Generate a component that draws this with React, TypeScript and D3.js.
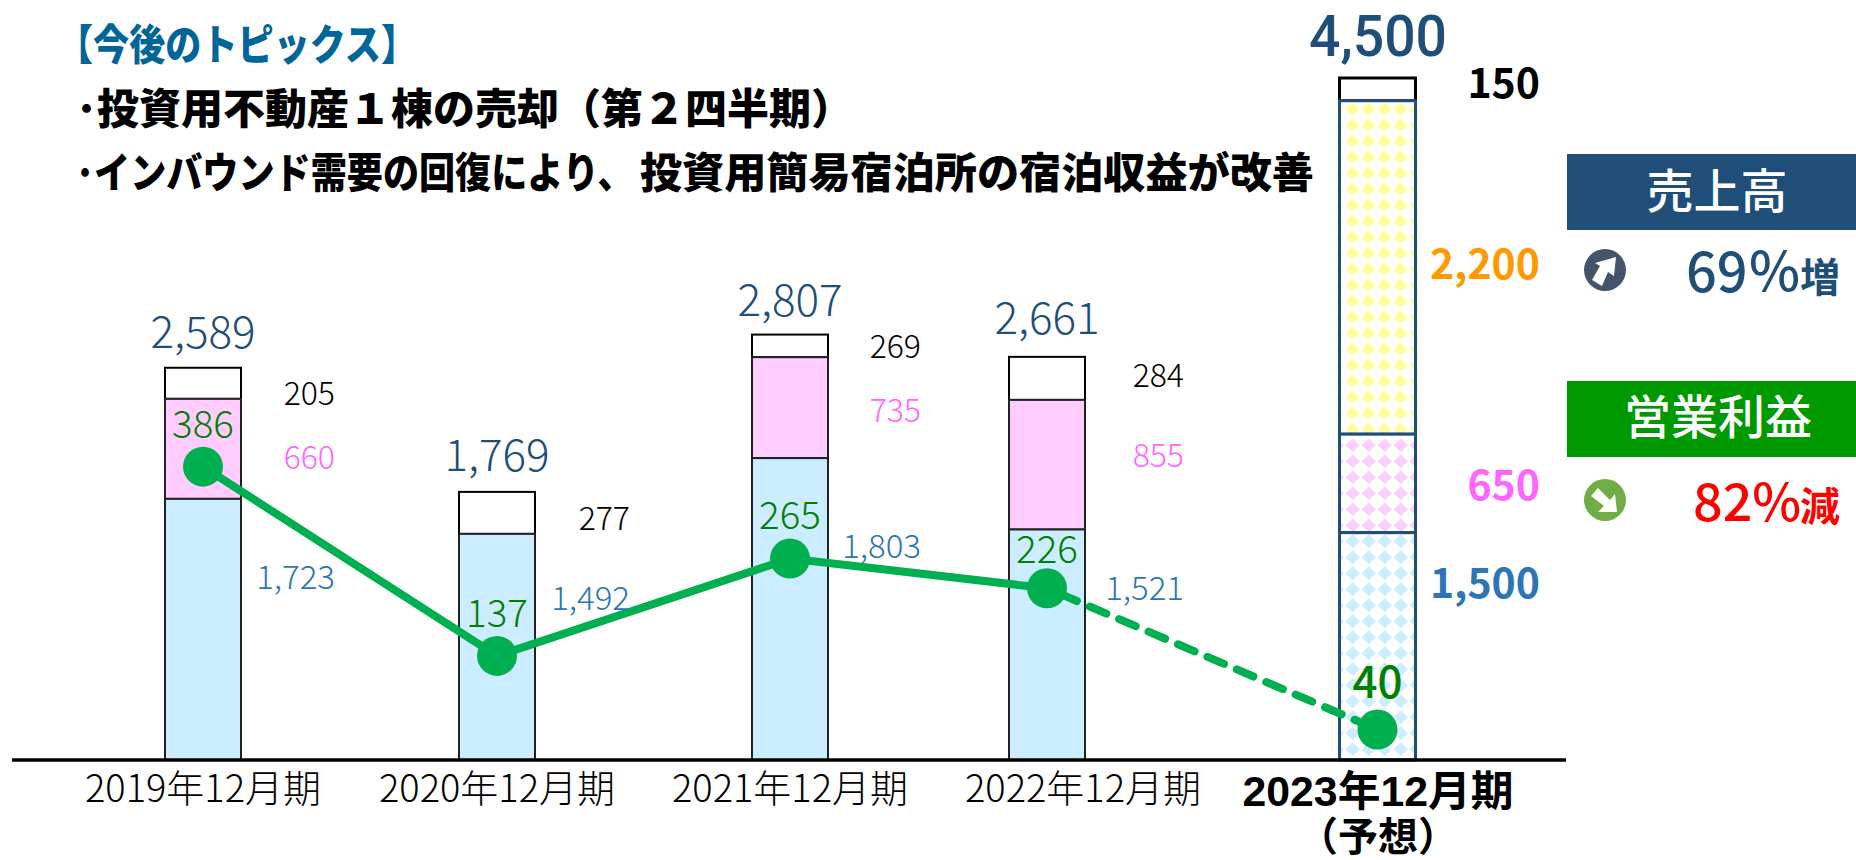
import React from "react";
import * as d3 from "d3";

const categories = ["2019年12月期", "2020年12月期", "2021年12月期", "2022年12月期", "2023年12月期"];
const totals = [2589, 1769, 2807, 2661, 4500];
// values printed beside the bars
const labelA = [1723, 1492, 1803, 1521, 1500];
const labelB = [660, 0, 735, 855, 650];
const labelC = [0, 0, 0, 0, 2200];
const labelD = [205, 277, 269, 284, 150];
// segment heights as actually drawn (2021's differ from its printed labels)
const barA = [1723, 1492, 1992, 1521, 1500];
const barB = [660, 0, 666, 855, 650];
const barC = [0, 0, 0, 0, 2200];
const barD = [205, 277, 149, 284, 150];
const profit = [386, 137, 265, 226, 40];

const FONT = "'Noto Sans CJK JP','Noto Sans',sans-serif";
const FONT_TIGHT = "'Liberation Sans','Noto Sans CJK JP',sans-serif";
const W = 1856, H = 860, BASE = 760;
const x = d3.scaleOrdinal<string, number>().domain(categories).range([203, 497, 790, 1047, 1377.5]);
const xLabel = d3.scaleOrdinal<string, number>().domain(categories).range([203, 497, 790, 1083, 1378]);
const y = d3.scaleLinear().domain([0, 4500]).range([BASE, 78]);
const yLine = d3.scaleLinear().domain([0, 400]).range([BASE, 456]);
const BAR = 76;
const fmt = d3.format(",");

const lineGen = d3.line<number>().x((_, i) => x(categories[i])).y((d) => yLine(d));
const solid = lineGen(profit.slice(0, 4)) as string;
const dashed = d3.line<number>().x((_, i) => x(categories[i + 3])).y((d) => yLine(d))(profit.slice(3)) as string;

// label layout: baselines & right edges
const totalY = [348, 471, 316, 334];
const sideRight = [335, 630, 921, 1184];
const whiteY = [405, 530, 358, 387];
const pinkY = [469, 0, 422, 467];
const blueY = [589, 610, 558, 600];
const profitY = [438, 627, 529, 563, 698];

function T(p: any) {
  const { children, ...r } = p;
  return <text fontFamily={FONT} {...r}>{children}</text>;
}
function Pat({ id, color }: { id: string; color: string }) {
  return (
    <pattern id={id} width={16} height={16} patternUnits="userSpaceOnUse" x={1344.7} y={101.3}>
      <rect width={16} height={16} fill="#fff" />
      <path d="M8 1L15 8L8 15L1 8Z" fill={color} />
    </pattern>
  );
}

export default function App() {
  return (
    <svg width={W} height={H} style={{ position: "absolute", left: 0, top: 0, background: "#fff" }}>
      <defs>
        <Pat id="pBlue" color="#CCECFF" />
        <Pat id="pPink" color="#FFCCFF" />
        <Pat id="pYel" color="#FFFF99" />
      </defs>

      <T x={57} y={60} fontSize={42} fontWeight={900} fill="#006699" textLength={360} lengthAdjust="spacingAndGlyphs">【今後のトピックス】</T>
      <T x={76} y={124} fontSize={42} fontWeight={900} fill="#000" textLength={777} lengthAdjust="spacingAndGlyphs">･投資用不動産１棟の売却（第２四半期）</T>
      <T transform="translate(76,188) scale(0.86,1)" fontSize={42} fontWeight={900} fill="#000">･インバウンド需要の回復により、</T>
      <T x={640} y={188} fontSize={42} fontWeight={900} fill="#000" textLength={674} lengthAdjust="spacingAndGlyphs">投資用簡易宿泊所の宿泊収益が改善</T>

      {categories.map((c, i) => {
        const cx = x(c), l = cx - BAR / 2;
        const forecast = i === 4;
        const a = barA[i], b = barB[i], cc = barC[i], d = barD[i];
        const stroke = forecast ? "#1F4E79" : "#222";
        const sw = forecast ? 3 : 2;
        return (
          <g key={c}>
            <rect x={l} width={BAR} y={y(a + b + cc + d)} height={y(a + b + cc) - y(a + b + cc + d)} fill="#fff" stroke="#000" strokeWidth={sw} />
            {cc > 0 && <rect x={l} width={BAR} y={y(a + b + cc)} height={y(a + b) - y(a + b + cc)} fill="url(#pYel)" stroke={stroke} strokeWidth={sw} />}
            {b > 0 && <rect x={l} width={BAR} y={y(a + b)} height={y(a) - y(a + b)} fill={forecast ? "url(#pPink)" : "#FFCCFF"} stroke={stroke} strokeWidth={sw} />}
            <rect x={l} width={BAR} y={y(a)} height={BASE - y(a)} fill={forecast ? "url(#pBlue)" : "#CCECFF"} stroke={stroke} strokeWidth={sw} />
          </g>
        );
      })}

      <line x1={12} x2={1566} y1={BASE} y2={BASE} stroke="#000" strokeWidth={3.5} />
      <path d={solid} fill="none" stroke="#00B050" strokeWidth={8} />
      <path d={dashed} fill="none" stroke="#00B050" strokeWidth={8} strokeDasharray="18 14" strokeDashoffset={-14.5} strokeLinecap="round" />
      {profit.map((v, i) => (
        <circle key={i} cx={x(categories[i])} cy={yLine(v)} r={20} fill="#00B050" />
      ))}

      {categories.slice(0, 4).map((c, i) => (
        <g key={c}>
          <T x={x(c)} y={totalY[i]} fontSize={44} fontWeight={300} textAnchor="middle" fill="#1F4E79">{fmt(totals[i])}</T>
          <T x={sideRight[i]} y={whiteY[i]} fontSize={32} fontWeight={300} textAnchor="end" fill="#000">{labelD[i]}</T>
          {labelB[i] > 0 && <T x={sideRight[i]} y={pinkY[i]} fontSize={32} fontWeight={300} textAnchor="end" fill="#FF66FF">{labelB[i]}</T>}
          <T x={sideRight[i]} y={blueY[i]} fontSize={33} fontWeight={300} textAnchor="end" fill="#2E75B6">{fmt(labelA[i])}</T>
          <T x={xLabel(c)} y={802} fontSize={38} fontWeight={300} textAnchor="middle" fill="#000">{c}</T>
        </g>
      ))}
      {profit.map((v, i) => (
        <T key={i} x={x(categories[i])} y={profitY[i]} fontSize={i === 4 ? 44 : 38.5} fontWeight={i === 4 ? 500 : 300} textAnchor="middle" fill="#008000">{v}</T>
      ))}

      <text x={1378} y={56} fontFamily="Roboto,sans-serif" fontSize={58} fontWeight={500} textAnchor="middle" fill="#1F4E79" textLength={138} lengthAdjust="spacingAndGlyphs">{fmt(totals[4])}</text>
      <T x={1540} y={98} fontSize={41} fontWeight={700} textAnchor="end" fill="#000">{labelD[4]}</T>
      <T x={1540} y={279} fontSize={41} fontWeight={700} textAnchor="end" fill="#FF9900">{fmt(labelC[4])}</T>
      <T x={1540} y={500} fontSize={41} fontWeight={700} textAnchor="end" fill="#FF66FF">{labelB[4]}</T>
      <T x={1540} y={598} fontSize={41} fontWeight={700} textAnchor="end" fill="#2E75B6">{fmt(labelA[4])}</T>
      <text x={xLabel(categories[4])} y={806} fontFamily={FONT_TIGHT} fontSize={42} fontWeight={700} textAnchor="middle" fill="#000" textLength={271} lengthAdjust="spacingAndGlyphs">{categories[4]}</text>
      <text x={xLabel(categories[4])} y={851} fontFamily={FONT_TIGHT} fontSize={40} fontWeight={700} textAnchor="middle" fill="#000">（予想）</text>

      <rect x={1567} y={154} width={289} height={76} fill="#1F4E79" />
      <T x={1717} y={208} fontSize={47} fontWeight={500} textAnchor="middle" fill="#fff">売上高</T>
      <circle cx={1605} cy={270} r={21} fill="#44546A" />
      <path d="M1616 257L1614 276L1608 272L1602 286L1592 280L1600 266L1595 263Z" fill="#fff" />
      <T x={1686} y={292} fontSize={54} fontWeight={500} fill="#1F4E79">69％</T>
      <T x={1800} y={292} fontSize={40} fontWeight={700} fill="#1F4E79">増</T>

      <rect x={1567} y={381} width={289} height={76} fill="#009900" />
      <T x={1718} y={434} fontSize={47} fontWeight={500} textAnchor="middle" fill="#fff">営業利益</T>
      <circle cx={1605} cy={500} r={21} fill="#70AD47" />
      <path d="M1617 512L1598 512L1604 506L1591 496L1598 488L1610 500L1615 494Z" fill="#fff" />
      <T x={1693} y={521} fontSize={52} fontWeight={500} fill="#FF0000">82%</T>
      <T x={1800} y={521} fontSize={40} fontWeight={700} fill="#FF0000">減</T>
    </svg>
  );
}
